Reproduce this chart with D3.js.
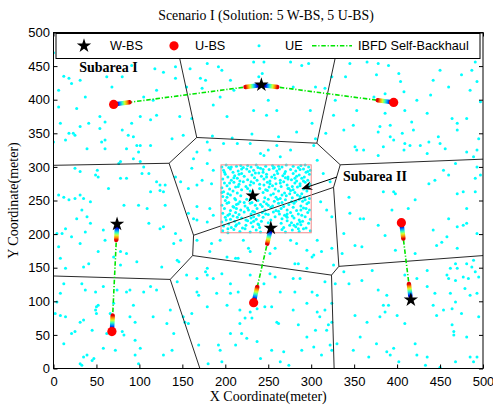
<!DOCTYPE html>
<html>
<head>
<meta charset="utf-8">
<script src="https://cdn.jsdelivr.net/npm/d3@7"></script>
<style>
  body { margin: 0; background: #fff; }
</style>
</head>
<body>
<div id="chart"></div>
<script>
// ---- data (metres) ----
const wbs = [[242,422],[74,215],[232,257],[253,209],[416,102]];
const ubs = [[70,393],[396,396],[405,217],[68,55],[233,98]];
// self-backhaul links: [W-BS index, U-BS index]
const links = [[0,0],[0,1],[1,3],[3,4],[4,2]];
// hotspot area (Subarea II): x0, y0, x1, y1
const hotspot = [195,202,300,303];
const xTicks = [0,50,100,150,200,250,300,350,400,450,500];
const yTicks = [0,50,100,150,200,250,300,350,400,450,500];

// UEs spread over the whole area
const ueSpread = [
  [0,470],[12,435],[18,432],[6,414],[21,424],[31,429],[37,404],[54,375],[41,365],[27,387],[6,389],[62,434],[68,419],[80,434],[91,451],[105,404],[116,399],[120,414],[118,446],[128,441],[142,449],[142,432],[147,375],[159,446],[171,432],[177,429],[173,417],[155,419],[179,454],[192,449],[196,444],[206,429],[210,414],[227,499],[233,456],[239,434],[243,439],[245,456],[250,399],[264,499],[260,384],[233,384],[248,377],[276,456],[279,419],[289,451],[297,454],[299,384],[305,419],[316,417],[324,434],[328,399],[340,434],[345,454],[353,384],[365,456],[373,404],[376,437],[378,454],[386,409],[390,451],[392,362],[402,439],[404,427],[408,412],[423,399],[435,380],[442,429],[450,444],[460,419],[464,372],[470,365],[475,437],[485,414],[493,427],[497,397],[491,456],[487,444],[481,372],[409,384],[417,367],[439,407],[326,377],[386,380],[301,365],[202,375],[161,372],[120,377],[101,375],[91,365],[54,357],[31,360],[8,365],[186,392],[194,404],
  [18,350],[23,350],[25,347],[0,337],[14,340],[60,367],[80,355],[87,347],[93,345],[113,370],[56,337],[60,340],[39,327],[60,327],[85,327],[97,332],[101,332],[113,332],[99,322],[93,312],[78,308],[101,308],[138,342],[151,347],[76,305],[25,298],[31,293],[51,295],[49,288],[52,285],[105,300],[103,290],[111,290],[113,263],[120,278],[124,273],[130,273],[124,265],[128,263],[78,283],[85,283],[64,268],[6,258],[12,255],[18,251],[25,253],[31,258],[35,253],[43,248],[33,236],[27,223],[39,226],[82,243],[99,243],[109,238],[130,243],[111,216],[43,216],[14,208],[21,196],[37,203],[58,206],[60,191],[4,201],[10,201],[31,186],[6,181],[124,208],[128,211],[142,201],[140,186],[52,174],[70,166],[78,174],[85,171],[8,164],[35,151],[41,156],[78,154],[97,159],[126,151],[144,161],[14,149],[12,126],[33,126],[37,117],[49,114],[58,122],[74,117],[85,114],[89,117],[105,114],[113,122],[120,117],[8,112],[4,99],[70,97],
  [163,312],[167,322],[142,285],[148,278],[157,268],[167,273],[167,241],[163,223],[167,221],[148,191],[167,191],[146,159],[155,139],[167,134],[144,129],[167,114],[169,109],
  [349,362],[338,355],[380,360],[378,352],[392,345],[396,340],[406,350],[419,355],[351,330],[353,325],[361,325],[378,317],[384,330],[409,335],[415,332],[408,325],[427,332],[437,337],[448,345],[450,335],[456,327],[435,320],[470,355],[481,322],[489,315],[493,325],[495,342],[468,305],[454,295],[460,288],[493,300],[491,283],[497,288],[437,275],[444,280],[384,263],[396,263],[398,260],[470,260],[477,263],[491,263],[344,255],[421,251],[394,236],[413,238],[345,231],[357,223],[361,223],[378,213],[460,223],[481,238],[470,211],[477,213],[481,216],[442,206],[324,226],[338,201],[351,183],[359,181],[386,198],[446,183],[452,188],[458,196],[470,179],[421,171],[398,176],[336,171],[493,201],[468,156],[470,149],[462,149],[487,151],[489,161],[481,156],[371,146],[338,144],[326,154],[344,126],[328,126],[359,131],[409,139],[423,134],[435,146],[458,139],[460,134],[468,131],[477,136],[483,134],[491,144],[495,136],[479,119],[485,109],[493,112],[468,99],[388,109],[378,117],[444,112],[435,122],[462,112],
  [182,174],[202,166],[212,164],[215,164],[229,174],[252,171],[281,156],[285,156],[295,149],[301,166],[303,169],[179,149],[177,144],[179,139],[186,134],[196,141],[206,126],[229,139],[245,126],[252,141],[258,136],[279,134],[287,134],[316,129],[190,112],[206,112],[215,114],[264,114],[281,114],[301,114],[307,109],[237,89],[295,97],[324,97],
  [2,82],[8,79],[14,77],[12,37],[21,52],[25,55],[31,69],[35,72],[45,57],[50,82],[49,87],[50,92],[52,94],[66,82],[62,52],[58,30],[47,15],[45,12],[33,5],[31,7],[39,20],[35,17],[72,27],[80,55],[82,50],[89,77],[93,94],[95,69],[95,42],[99,7],[95,20],[101,30],[116,77],[128,20],[140,52],[132,67],[136,87],[138,27],[151,77],[153,69],[157,67],[161,82],[169,35],[179,92],[180,7],[192,35],[194,27],[196,10],[202,94],[206,52],[212,35],[217,67],[219,52],[217,87],[223,75],[225,45],[231,75],[229,84],[237,40],[241,15],[246,92],[254,92],[254,27],[260,69],[262,67],[264,10],[268,25],[274,5],[279,87],[285,65],[289,27],[295,47],[303,32],[307,84],[310,77],[305,57],[316,87],[318,57],[320,65],[312,20],[324,69],[322,35],[324,27],[330,37],[351,79],[357,47],[349,27],[365,69],[367,17],[376,37],[380,77],[384,94],[386,84],[390,94],[388,25],[392,20],[396,30],[400,79],[402,10],[409,67],[421,37],[423,20],[433,5],[435,17],[442,94],[446,79],[450,2],[454,87],[464,89],[464,65],[466,55],[466,50],[468,10],[475,82],[481,47],[485,17],[489,10],[493,17],[495,77],
  [179,337],[182,325],[198,335],[214,335],[229,335],[241,320],[245,317],[250,325],[264,315],[260,332],[276,325],[173,280],[179,305],[186,295],[184,275],[161,298],[157,231],[182,238],[186,228],[179,218],[184,186],[194,191],[221,191],[227,179],[258,179],[276,191],[283,186],[295,176],[307,191],[312,174],[324,179],[303,332],[307,310],[314,290],[322,278],[311,248],[318,236],
  [185,346],[208,343],[231,349],[262,345],[283,352],[305,342],[317,350]
];

// UEs packed in the hotspot
const ueHotspot = [
  [196,300],[201,303],[204,299],[213,301],[218,302],[221,299],[230,300],[236,303],[238,299],[247,301],[255,302],[257,299],[266,300],[271,303],[279,301],[285,299],[288,302],[297,300],
  [198,295],[206,297],[209,292],[215,294],[225,297],[228,293],[233,295],[241,298],[244,292],[251,296],[260,294],[263,297],[270,293],[276,296],[282,294],[291,297],[294,292],[299,295],
  [200,289],[203,285],[211,287],[219,290],[222,286],[231,288],[239,291],[242,286],[248,289],[254,285],[261,290],[267,287],[273,285],[279,290],[286,288],[292,285],[298,289],
  [197,282],[207,280],[214,283],[217,279],[226,281],[234,284],[237,280],[245,282],[252,279],[258,283],[264,280],[270,284],[277,281],[283,279],[289,283],[296,280],
  [199,276],[202,272],[210,277],[216,274],[221,278],[229,273],[233,276],[240,274],[249,277],[255,272],[259,275],[268,278],[272,273],[281,276],[287,272],[293,277],[299,274],
  [196,269],[205,267],[212,270],[219,266],[224,271],[240,268],[247,266],[251,270],[258,267],[265,271],[274,268],[279,266],[284,270],[291,267],[297,271],
  [198,263],[203,260],[209,264],[214,261],[244,262],[249,265],[256,260],[262,264],[269,261],[276,265],[281,262],[289,260],[295,264],
  [197,256],[206,258],[211,253],[218,257],[246,254],[253,258],[259,255],[264,253],[271,257],[278,254],[284,258],[292,255],[298,253],
  [200,250],[204,247],[212,251],[217,248],[225,252],[231,247],[238,250],[245,248],[250,252],[257,249],[266,247],[270,251],[277,248],[286,252],[290,249],[297,247],
  [196,243],[202,246],[209,241],[215,245],[223,242],[229,246],[235,243],[243,241],[248,245],[255,242],[262,246],[268,241],[274,244],[280,246],[288,242],[295,245],
  [199,238],[206,235],[210,240],[218,236],[226,239],[232,234],[237,238],[246,236],[253,240],[259,235],[265,238],[272,236],[279,240],[283,235],[291,239],[298,236],
  [197,231],[203,228],[212,232],[216,229],[222,233],[230,230],[239,228],[243,232],[250,229],[256,233],[263,230],[269,228],[276,232],[285,230],[289,228],[296,232],
  [200,225],[206,222],[209,227],[219,224],[224,221],[233,226],[236,222],[244,225],[253,221],[258,226],[266,223],[271,227],[280,224],[286,221],[293,226],[299,222],
  [196,218],[204,215],[211,219],[216,216],[226,220],[230,217],[238,215],[242,219],[265,216],[272,220],[277,217],[284,215],[290,219],[297,216],
  [198,212],[207,210],[213,214],[220,209],[224,213],[232,211],[239,214],[268,210],[275,213],[282,211],[288,214],[294,209],
  [197,205],[203,202],[210,207],[217,204],[223,208],[229,203],[236,206],[241,203],[266,207],[270,203],[278,206],[286,204],[291,208],[299,205],
  [207,300],[226,302],[262,301],[293,303],[219,297],[256,298],[287,296],[235,291],[257,288],[283,286],[210,284],[248,285],[273,282],[230,278],[264,276],[291,279],[215,271],[245,273],[287,275],[229,264],[273,268],[202,255],[275,260],[222,247],[261,252],[282,249],[213,238],[250,243],[288,236],[234,233],[272,225],[205,230],[247,230],[278,227],[230,224],[212,212],[287,218],
  [199,292],[216,289],[244,296],[269,290],[281,283],[296,293],[205,276],[226,268],[252,275],[278,271],[196,262],[266,258],[287,256],[213,244],[241,244],[293,251],[201,221],[227,236],[262,234],[294,238],[214,225],[250,217],[280,213],[203,208],[285,208],[233,219],[272,230],[240,210]
];

// ---- layout ----
const W = 493, H = 407;
const margin = { top: 32.5, left: 53.5 };
const width = 429.5, height = 336;
const serif = "'Liberation Serif', 'Times New Roman', serif";
const sans = "'Liberation Sans', Arial, sans-serif";
const green = "#00e600";

const svg = d3.select("#chart").append("svg")
  .attr("width", W)
  .attr("height", H)
  .style("font-family", sans);
const defs = svg.append("defs");

const g = svg.append("g")
  .attr("transform", `translate(${margin.left},${margin.top})`);

const x = d3.scaleLinear().domain([0, 500]).range([0, width]);
const y = d3.scaleLinear().domain([0, 500]).range([height, 0]);

defs.append("clipPath").attr("id", "plotclip")
  .append("rect").attr("width", width).attr("height", height);
const plot = g.append("g").attr("clip-path", "url(#plotclip)");

// UEs
plot.append("g").selectAll("circle")
  .data(ueSpread.concat(ueHotspot))
  .join("circle")
  .attr("cx", d => x(d[0]))
  .attr("cy", d => y(d[1]))
  .attr("r", 1.5)
  .attr("fill", "#00ffff");

// cell boundaries: voronoi of all base stations
const sites = wbs.concat(ubs);
const vor = d3.Delaunay.from(sites).voronoi([0, 0, 500, 500]);
const vpath = d3.path();
vor.render({
  moveTo: (a, b) => vpath.moveTo(x(a), y(b)),
  lineTo: (a, b) => vpath.lineTo(x(a), y(b)),
  closePath: () => vpath.closePath()
});
plot.append("path")
  .attr("d", vpath.toString())
  .attr("fill", "none")
  .attr("stroke", "#111")
  .attr("stroke-width", 0.9);

// hotspot box
plot.append("rect")
  .attr("x", x(hotspot[0]))
  .attr("y", y(hotspot[3]))
  .attr("width", x(hotspot[2]) - x(hotspot[0]))
  .attr("height", y(hotspot[1]) - y(hotspot[3]))
  .attr("fill", "none")
  .attr("stroke", "#f08a8a")
  .attr("stroke-width", 1);

// backhaul links
plot.append("g").selectAll("line")
  .data(links)
  .join("line")
  .attr("x1", d => x(wbs[d[0]][0]))
  .attr("y1", d => y(wbs[d[0]][1]))
  .attr("x2", d => x(ubs[d[1]][0]))
  .attr("y2", d => y(ubs[d[1]][1]))
  .attr("stroke", green)
  .attr("stroke-width", 1.6)
  .attr("stroke-dasharray", "4.5,1.8,1.2,1.8");

// beam tips at both ends of each link (jet colours, blue at the node)
const jet = ["#0000d0", "#0090ff", "#30ffc0", "#d0ff30", "#ff9000", "#e00000"];
const tips = [];
links.forEach(l => {
  const a = wbs[l[0]], b = ubs[l[1]];
  tips.push([a, b], [b, a]);
});
tips.forEach((t, i) => {
  const px = x(t[0][0]), py = y(t[0][1]);
  const qx = x(t[1][0]), qy = y(t[1][1]);
  const len = Math.hypot(qx - px, qy - py);
  const ux = (qx - px) / len, uy = (qy - py) / len;
  const s = [px + 4 * ux, py + 4 * uy], e = [px + 16 * ux, py + 16 * uy];
  const grad = defs.append("linearGradient")
    .attr("id", "tip" + i)
    .attr("gradientUnits", "userSpaceOnUse")
    .attr("x1", s[0]).attr("y1", s[1])
    .attr("x2", e[0]).attr("y2", e[1]);
  jet.forEach((c, k) => grad.append("stop")
    .attr("offset", k / (jet.length - 1))
    .attr("stop-color", c));
  plot.append("line")
    .attr("x1", s[0]).attr("y1", s[1])
    .attr("x2", e[0]).attr("y2", e[1])
    .attr("stroke", `url(#tip${i})`)
    .attr("stroke-width", 4.5)
    .attr("stroke-linecap", "round");
});

// U-BS
plot.append("g").selectAll("circle")
  .data(ubs)
  .join("circle")
  .attr("cx", d => x(d[0]))
  .attr("cy", d => y(d[1]))
  .attr("r", 4.6)
  .attr("fill", "#ff0000");

// W-BS
const star = d3.symbol().type(d3.symbolStar).size(64);
plot.append("g").selectAll("path")
  .data(wbs)
  .join("path")
  .attr("transform", d => `translate(${x(d[0])},${y(d[1])})`)
  .attr("d", star)
  .attr("fill", "#000");

// subarea annotations
g.append("text")
  .attr("x", x(30)).attr("y", y(441))
  .attr("font-family", serif).attr("font-weight", "bold").attr("font-size", 14)
  .text("Subarea I");
g.append("text")
  .attr("x", x(337)).attr("y", y(279))
  .attr("font-family", serif).attr("font-weight", "bold").attr("font-size", 14)
  .text("Subarea II");

const tail = [x(330), y(285)], tip = [x(288.5), y(267)];
{
  const len = Math.hypot(tip[0] - tail[0], tip[1] - tail[1]);
  const ux = (tip[0] - tail[0]) / len, uy = (tip[1] - tail[1]) / len;
  const nx = -uy, ny = ux;
  g.append("line")
    .attr("x1", tail[0]).attr("y1", tail[1])
    .attr("x2", tip[0] - 6 * ux).attr("y2", tip[1] - 6 * uy)
    .attr("stroke", "#000").attr("stroke-width", 1);
  const head = [
    tip,
    [tip[0] - 11 * ux + 4.5 * nx, tip[1] - 11 * uy + 4.5 * ny],
    [tip[0] - 7 * ux, tip[1] - 7 * uy],
    [tip[0] - 11 * ux - 4.5 * nx, tip[1] - 11 * uy - 4.5 * ny]
  ];
  g.append("path")
    .attr("d", "M" + head.map(p => p.join(",")).join("L") + "Z")
    .attr("fill", "#000");
}

// frame + axes (ticks inside, box on)
g.append("rect")
  .attr("width", width).attr("height", height)
  .attr("fill", "none").attr("stroke", "#000").attr("stroke-width", 1);

function styleAxis(sel) {
  sel.select(".domain").remove();
  sel.selectAll(".tick line").attr("stroke", "#000");
  sel.selectAll(".tick text").attr("fill", "#000");
  sel.attr("font-family", sans).attr("font-size", 13);
}

g.append("g")
  .attr("transform", `translate(0,${height})`)
  .call(d3.axisBottom(x).tickValues(xTicks).tickSize(-4).tickPadding(8))
  .call(styleAxis);
g.append("g")
  .call(d3.axisLeft(y).tickValues(yTicks).tickSize(-4).tickPadding(3.5))
  .call(styleAxis);
g.append("g")
  .call(d3.axisTop(x).tickValues(xTicks).tickSize(-4).tickFormat(""))
  .call(styleAxis);
g.append("g")
  .attr("transform", `translate(${width},0)`)
  .call(d3.axisRight(y).tickValues(yTicks).tickSize(-4).tickFormat(""))
  .call(styleAxis);

// titles
svg.append("text")
  .attr("x", 266).attr("y", 19.5)
  .attr("text-anchor", "middle")
  .attr("font-family", serif).attr("font-size", 13.8)
  .text("Scenario I (Solution: 5 W-BS, 5 U-BS)");
svg.append("text")
  .attr("x", margin.left + width / 2).attr("y", 401)
  .attr("text-anchor", "middle")
  .attr("font-family", serif).attr("font-size", 14)
  .text("X Coordinate(meter)");
svg.append("text")
  .attr("transform", `translate(18,${margin.top + height / 2}) rotate(-90)`)
  .attr("text-anchor", "middle")
  .attr("font-family", serif).attr("font-size", 14)
  .text("Y Coordinate(meter)");

// legend
const lg = svg.append("g");
lg.append("rect")
  .attr("x", 56).attr("y", 33.5)
  .attr("width", 424).attr("height", 25)
  .attr("fill", "#fff").attr("stroke", "#000").attr("stroke-width", 1);
const ly = 45.8;
lg.append("path").attr("transform", `translate(84,${ly})`).attr("d", star).attr("fill", "#000");
lg.append("circle").attr("cx", 174).attr("cy", ly).attr("r", 4.6).attr("fill", "#ff0000");
lg.append("circle").attr("cx", 259).attr("cy", ly).attr("r", 1.5).attr("fill", "#00ffff");
lg.append("line")
  .attr("x1", 312).attr("x2", 352).attr("y1", ly).attr("y2", ly)
  .attr("stroke", green).attr("stroke-width", 1.6)
  .attr("stroke-dasharray", "4.5,1.8,1.2,1.8");
const legendText = [["W-BS", 110], ["U-BS", 195], ["UE", 285], ["IBFD Self-Backhaul", 358]];
lg.selectAll("text.lab")
  .data(legendText)
  .join("text")
  .attr("class", "lab")
  .attr("x", d => d[1]).attr("y", ly + 4.6)
  .attr("font-size", 12.7)
  .text(d => d[0]);
</script>
</body>
</html>
